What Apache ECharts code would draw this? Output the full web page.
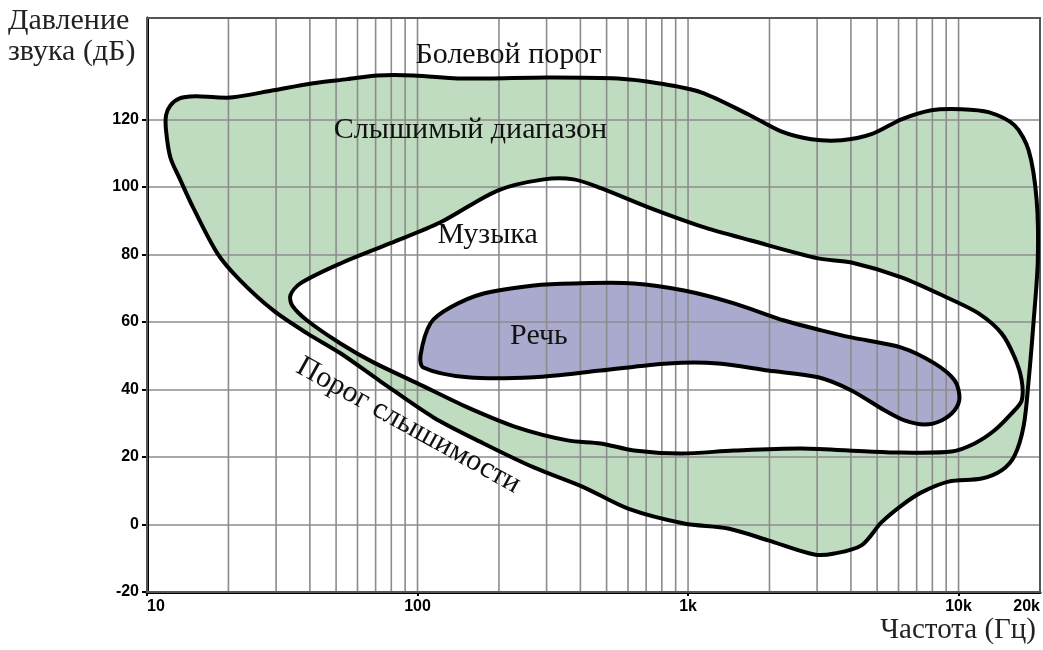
<!DOCTYPE html>
<html><head><meta charset="utf-8">
<script src="https://cdn.jsdelivr.net/npm/echarts@6/dist/echarts.min.js"></script>
<style>html,body{margin:0;padding:0;background:#fff}#c{width:1043px;height:650px}</style>
</head><body><div id="c"></div>
<script>
// ---- data ----
const hearingFreq = [12.2,13.2,15.1,17.9,20.8,29.3,41.2,55.1,71.1,96.6,140.6,181.6,303,550,774,1117,1667,2209,2855,3690,4762,6150,7943,10250,12910,16110,18160,19440,19630,18950,18160,17410,16110,14420,12170,9180,7290,6150,5185,4375,3475,2929,1978,1406,967,600,412,269,175.5,114.6,72.9,51.9,39.1,29.3,22.1,18.2,14.8,13.2,12.2,11.76,11.76];
const hearingDb   = [124.1,126.2,126.8,126.5,126.5,128.6,130.7,131.9,133.0,133.0,132.1,132.1,132.4,132.1,130.7,128.0,121.5,116.4,114.1,113.8,115.6,120.0,122.7,123.0,122.1,118.2,110.8,96.0,78.2,60.4,42.7,29.3,20.4,16.0,13.6,12.7,9.5,5.6,0.6,-6.2,-8.6,-8.9,-4.7,-1.2,0.3,4.7,11.0,16.9,24.0,31.7,42.4,50.7,56.6,63.4,72.3,80.3,93.9,102.5,108.7,116.7,121.2];

const musicFreq = [33.9,36.9,51.9,79.4,121.7,197.8,293,378,476,730,1117,1710,3028,4017,6150,9180,11860,14420,16110,17110,17110,15710,13590,11460,9420,6150,4645,2623,1479,942,631,476,359,234.6,153,100,68.7,51.9,39.1,34.4];
const musicDb   = [67.9,71.4,77.3,83.3,89.5,98.9,102.2,102.2,99.6,93.6,88.3,84.1,78.8,77.6,73.2,67.0,62.5,56.6,49.5,42.7,36.7,32.9,27.9,24.0,21.6,21.3,21.6,22.5,21.9,21.0,21.9,24.0,24.9,28.7,34.7,41.8,48.0,53.6,60.4,64.9];

const speechFreq = [102.6,111.7,132.5,175.5,269,378,631,967,1479,2267,3111,4017,6150,8150,9665,10080,9665,8650,7480,6310,5321,4017,3028,1978,1291,843,476,269,153,105];
const speechDb   = [50.1,59.6,64.3,68.4,70.8,71.4,71.4,69.3,65.5,60.4,57.5,55.4,52.4,47.7,42.7,37.6,33.8,30.8,29.6,30.8,33.8,39.7,43.6,45.6,47.7,47.7,45.6,43.6,43.6,46.5];

const gridFreqs = [20,30,40,50,60,70,80,90,100,200,300,400,500,600,700,800,900,1000,2000,3000,4000,5000,6000,7000,8000,9000,10000];
const xTickValues = [10,100,1000,10000,20000];
const xTickLabels = ['10','100','1k','10k','20k'];
const yTickValues = [-20,0,20,40,60,80,100,120];

const annotTexts = ['Болевой порог','Слышимый диапазон','Музыка','Речь','Порог слышимости'];
const annotFreq  = [217,157,181.6,281,92.6];
const annotDb    = [139.0,116.7,85.6,55.7,29.3];
const annotAngle = [0,0,0,0,-29];

const yTitle = 'Давление\nзвука (дБ)';
const xTitle = 'Частота (Гц)';
// ---- chart ----
const Y_MIN = -20, Y_MAX = 150;
const chart = echarts.init(document.getElementById('c'), null, {renderer:'canvas'});

function region(name, fx, dy, fill, z, outline) {
  return {
    type:'custom', name, coordinateSystem:'cartesian2d', z, silent:true,
    data: fx.map((f,i)=>[f, dy[i]]),
    renderItem: function(params, api){
      if (params.dataIndex !== 0) return null;
      const pts = fx.map((f,i)=>api.coord([f, dy[i]]));
      return {type:'polygon', shape:{points:pts, smooth:0.3},
        style: outline ? {fill:'none', stroke:'#000', lineWidth:4, lineJoin:'round'} : {fill:fill, stroke:'none'}};
    }
  };
}

const serif = 'Liberation Serif';
chart.setOption({
  animation:false,
  title:[
    {text:yTitle, left:3, top:1, textStyle:{fontFamily:serif, fontWeight:'normal', fontSize:30, color:'#222', lineHeight:31}},
    {text:xTitle, right:2, bottom:0, textStyle:{fontFamily:serif, fontWeight:'normal', fontSize:29, color:'#222'}}
  ],
  grid:{left:147, right:3, top:18, bottom:58, show:true, borderColor:'#555', borderWidth:2, backgroundColor:'transparent', z:4},
  xAxis:{type:'log', logBase:10, min:10, max:20000, z:3,
    axisLine:{onZero:false, lineStyle:{color:'#000', width:3}},
    axisTick:{show:true, customValues:[10,100,1000,10000], length:4, lineStyle:{color:'#000', width:2}},
    axisLabel:{customValues:xTickValues, formatter:(v)=>xTickLabels[xTickValues.indexOf(v)] ?? '', margin:7,
      fontFamily:'Liberation Sans', fontWeight:'bold', fontSize:16, color:'#000', alignMinLabel:'left', alignMaxLabel:'right'},
    splitLine:{show:false}, minorSplitLine:{show:false}},
  yAxis:{type:'value', min:Y_MIN, max:Y_MAX, interval:10, z:3,
    axisLine:{show:true, onZero:false, lineStyle:{color:'#000', width:3}},
    axisTick:{show:true, customValues:yTickValues, length:5, lineStyle:{color:'#000', width:2}},
    axisLabel:{customValues:yTickValues, margin:8, fontFamily:'Liberation Sans', fontWeight:'bold', fontSize:16, color:'#000'},
    splitLine:{show:true, lineStyle:{color:'#8c8c8c', width:1.6}}},
  series:[
    region('hearingFill', hearingFreq, hearingDb, '#c0dcc0', 1, false),
    region('musicFill', musicFreq, musicDb, '#ffffff', 1, false),
    region('speechFill', speechFreq, speechDb, '#aaaacf', 1, false),
    {type:'custom', name:'vgrid', z:2, silent:true, data:gridFreqs.map(f=>[f, Y_MIN]),
      renderItem:(params, api)=>{
        const a = api.coord([api.value(0), Y_MIN]), b = api.coord([api.value(0), Y_MAX]);
        return {type:'line', shape:{x1:a[0], y1:a[1], x2:b[0], y2:b[1]}, style:{stroke:'#8c8c8c', lineWidth:1.6}};
      }},
    region('hearing', hearingFreq, hearingDb, null, 5, true),
    region('music', musicFreq, musicDb, null, 5, true),
    region('speech', speechFreq, speechDb, null, 5, true),
    {type:'custom', name:'labels', z:6, silent:true, data:annotFreq.map((f,i)=>[f, annotDb[i]]),
      renderItem:(params, api)=>{
        const i = params.dataIndex;
        const p = api.coord([api.value(0), api.value(1)]);
        return {type:'text', x:p[0], y:p[1], rotation:annotAngle[i]*Math.PI/180,
          style:{text:annotTexts[i], fontFamily:serif, fontSize:30, fill:'#111', align:'center', verticalAlign:'middle'}};
      }}
  ]
});
</script></body></html>
